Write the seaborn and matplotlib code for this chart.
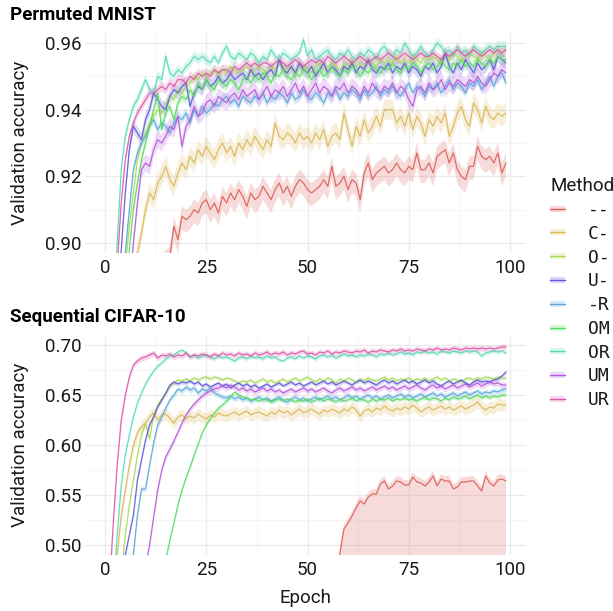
import numpy as np
import pandas as pd
import matplotlib
matplotlib.use("Agg")
import matplotlib.pyplot as plt
import seaborn as sns
from matplotlib.lines import Line2D

# methods in legend order
methods = ["--", "C-", "O-", "U-", "-R", "OM", "OR", "UM", "UR"]
epochs = list(range(100))

# ---- Permuted MNIST validation accuracy (per epoch) ----
mnist_none = [0.200, 0.400, 0.550, 0.650, 0.720, 0.770, 0.800, 0.830, 0.850, 0.865,
              0.875, 0.882, 0.887, 0.890, 0.893, 0.895, 0.896, 0.905, 0.901, 0.908,
              0.907, 0.908, 0.910, 0.909, 0.912, 0.913, 0.910, 0.912, 0.909, 0.914,
              0.912, 0.915, 0.913, 0.916, 0.914, 0.911, 0.915, 0.913, 0.914, 0.917,
              0.915, 0.913, 0.916, 0.918, 0.915, 0.917, 0.914, 0.917, 0.919, 0.918,
              0.916, 0.915, 0.916, 0.917, 0.919, 0.917, 0.923, 0.917, 0.918, 0.920,
              0.916, 0.919, 0.918, 0.913, 0.921, 0.924, 0.919, 0.921, 0.922, 0.923,
              0.921, 0.922, 0.924, 0.922, 0.921, 0.923, 0.922, 0.927, 0.922, 0.922,
              0.924, 0.921, 0.926, 0.927, 0.928, 0.924, 0.927, 0.922, 0.920, 0.919,
              0.923, 0.923, 0.929, 0.926, 0.925, 0.926, 0.924, 0.927, 0.921, 0.924]
mnist_c = [0.300, 0.500, 0.650, 0.750, 0.810, 0.850, 0.872, 0.888, 0.897, 0.903,
           0.910, 0.915, 0.913, 0.918, 0.920, 0.923, 0.919, 0.917, 0.921, 0.924,
           0.922, 0.926, 0.924, 0.928, 0.926, 0.929, 0.927, 0.925, 0.928, 0.930,
           0.927, 0.929, 0.926, 0.930, 0.928, 0.931, 0.929, 0.932, 0.930, 0.928,
           0.931, 0.929, 0.936, 0.932, 0.931, 0.933, 0.932, 0.930, 0.933, 0.931,
           0.932, 0.930, 0.933, 0.931, 0.934, 0.929, 0.932, 0.933, 0.931, 0.939,
           0.934, 0.929, 0.935, 0.932, 0.937, 0.933, 0.935, 0.938, 0.935, 0.940,
           0.940, 0.940, 0.936, 0.938, 0.935, 0.939, 0.934, 0.938, 0.936, 0.932,
           0.937, 0.935, 0.938, 0.936, 0.939, 0.932, 0.935, 0.939, 0.941, 0.937,
           0.935, 0.942, 0.940, 0.936, 0.941, 0.938, 0.937, 0.939, 0.938, 0.939]
mnist_o = [0.400, 0.600, 0.750, 0.830, 0.870, 0.893, 0.905, 0.915, 0.925, 0.930,
           0.933, 0.936, 0.938, 0.940, 0.939, 0.942, 0.944, 0.943, 0.946, 0.945,
           0.947, 0.948, 0.950, 0.949, 0.951, 0.950, 0.951, 0.952, 0.950, 0.952,
           0.951, 0.953, 0.952, 0.951, 0.952, 0.953, 0.951, 0.952, 0.953, 0.952,
           0.951, 0.953, 0.952, 0.954, 0.952, 0.953, 0.952, 0.951, 0.953, 0.952,
           0.953, 0.951, 0.953, 0.954, 0.952, 0.953, 0.954, 0.953, 0.952, 0.954,
           0.953, 0.955, 0.953, 0.954, 0.953, 0.955, 0.954, 0.953, 0.955, 0.954,
           0.955, 0.954, 0.956, 0.954, 0.955, 0.954, 0.956, 0.955, 0.954, 0.956,
           0.955, 0.956, 0.955, 0.954, 0.956, 0.955, 0.957, 0.956, 0.955, 0.956,
           0.957, 0.956, 0.955, 0.957, 0.956, 0.955, 0.957, 0.958, 0.957, 0.958]
mnist_u = [0.500, 0.700, 0.820, 0.875, 0.898, 0.915, 0.928, 0.935, 0.933, 0.931,
           0.937, 0.940, 0.945, 0.943, 0.941, 0.940, 0.944, 0.946, 0.945, 0.947,
           0.948, 0.941, 0.945, 0.947, 0.946, 0.949, 0.947, 0.948, 0.950, 0.948,
           0.949, 0.951, 0.949, 0.950, 0.951, 0.949, 0.952, 0.950, 0.951, 0.949,
           0.951, 0.952, 0.950, 0.955, 0.952, 0.951, 0.953, 0.951, 0.954, 0.952,
           0.951, 0.953, 0.950, 0.952, 0.954, 0.951, 0.953, 0.952, 0.950, 0.953,
           0.952, 0.954, 0.951, 0.953, 0.952, 0.955, 0.952, 0.951, 0.953, 0.952,
           0.954, 0.951, 0.953, 0.952, 0.954, 0.951, 0.953, 0.952, 0.950, 0.953,
           0.952, 0.954, 0.951, 0.953, 0.957, 0.953, 0.951, 0.954, 0.952, 0.955,
           0.953, 0.951, 0.954, 0.952, 0.953, 0.955, 0.952, 0.956, 0.955, 0.954]
mnist_r = [0.450, 0.650, 0.780, 0.850, 0.880, 0.897, 0.910, 0.922, 0.927, 0.930,
           0.932, 0.935, 0.937, 0.934, 0.936, 0.935, 0.933, 0.936, 0.938, 0.937,
           0.939, 0.936, 0.940, 0.938, 0.941, 0.939, 0.940, 0.942, 0.941, 0.943,
           0.944, 0.942, 0.943, 0.941, 0.944, 0.943, 0.942, 0.944, 0.943, 0.945,
           0.942, 0.944, 0.943, 0.945, 0.944, 0.942, 0.945, 0.943, 0.944, 0.946,
           0.944, 0.943, 0.945, 0.944, 0.942, 0.945, 0.944, 0.946, 0.943, 0.945,
           0.944, 0.946, 0.945, 0.943, 0.946, 0.944, 0.945, 0.947, 0.944, 0.946,
           0.945, 0.947, 0.945, 0.944, 0.946, 0.948, 0.945, 0.947, 0.946, 0.944,
           0.947, 0.946, 0.948, 0.945, 0.947, 0.949, 0.946, 0.948, 0.947, 0.945,
           0.948, 0.947, 0.949, 0.946, 0.948, 0.950, 0.947, 0.950, 0.951, 0.948]
mnist_om = [0.350, 0.550, 0.700, 0.800, 0.850, 0.880, 0.898, 0.910, 0.918, 0.925,
            0.930, 0.935, 0.940, 0.945, 0.934, 0.939, 0.941, 0.937, 0.942, 0.944,
            0.943, 0.946, 0.944, 0.948, 0.946, 0.949, 0.947, 0.946, 0.949, 0.948,
            0.947, 0.949, 0.948, 0.946, 0.949, 0.950, 0.948, 0.950, 0.949, 0.951,
            0.950, 0.948, 0.951, 0.950, 0.952, 0.950, 0.949, 0.951, 0.950, 0.952,
            0.951, 0.949, 0.951, 0.952, 0.950, 0.951, 0.953, 0.951, 0.950, 0.952,
            0.951, 0.953, 0.952, 0.950, 0.952, 0.951, 0.953, 0.952, 0.951, 0.953,
            0.952, 0.954, 0.952, 0.951, 0.953, 0.952, 0.954, 0.953, 0.951, 0.953,
            0.954, 0.952, 0.953, 0.955, 0.953, 0.952, 0.954, 0.953, 0.955, 0.953,
            0.954, 0.953, 0.955, 0.954, 0.953, 0.955, 0.954, 0.956, 0.955, 0.955]
mnist_or = [0.600, 0.800, 0.870, 0.900, 0.922, 0.932, 0.937, 0.941, 0.943, 0.946,
            0.949, 0.946, 0.945, 0.950, 0.949, 0.956, 0.951, 0.950, 0.952, 0.951,
            0.953, 0.954, 0.956, 0.955, 0.956, 0.955, 0.954, 0.956, 0.954, 0.957,
            0.959, 0.956, 0.955, 0.957, 0.956, 0.955, 0.957, 0.956, 0.954, 0.956,
            0.955, 0.958, 0.956, 0.955, 0.957, 0.956, 0.955, 0.956, 0.957, 0.961,
            0.956, 0.958, 0.955, 0.956, 0.957, 0.958, 0.956, 0.955, 0.957, 0.956,
            0.958, 0.956, 0.955, 0.957, 0.956, 0.958, 0.957, 0.955, 0.958, 0.959,
            0.957, 0.956, 0.958, 0.957, 0.960, 0.958, 0.956, 0.957, 0.959, 0.957,
            0.956, 0.958, 0.960, 0.959, 0.957, 0.958, 0.956, 0.959, 0.957, 0.958,
            0.956, 0.959, 0.958, 0.957, 0.958, 0.959, 0.958, 0.959, 0.959, 0.959]
mnist_um = [0.300, 0.500, 0.650, 0.750, 0.820, 0.860, 0.885, 0.900, 0.912, 0.922,
            0.924, 0.923, 0.928, 0.931, 0.930, 0.932, 0.935, 0.934, 0.938, 0.929,
            0.935, 0.937, 0.941, 0.938, 0.939, 0.942, 0.943, 0.941, 0.944, 0.943,
            0.942, 0.944, 0.945, 0.943, 0.946, 0.944, 0.945, 0.946, 0.943, 0.945,
            0.947, 0.944, 0.946, 0.945, 0.947, 0.944, 0.946, 0.948, 0.945, 0.947,
            0.944, 0.946, 0.948, 0.945, 0.947, 0.946, 0.944, 0.947, 0.946, 0.948,
            0.945, 0.947, 0.946, 0.944, 0.947, 0.945, 0.948, 0.946, 0.945, 0.947,
            0.946, 0.948, 0.945, 0.947, 0.946, 0.943, 0.941, 0.946, 0.947, 0.945,
            0.948, 0.946, 0.947, 0.949, 0.946, 0.948, 0.947, 0.949, 0.948, 0.947,
            0.949, 0.948, 0.950, 0.948, 0.947, 0.949, 0.951, 0.950, 0.952, 0.951]
mnist_ur = [0.550, 0.750, 0.850, 0.893, 0.912, 0.925, 0.932, 0.936, 0.939, 0.941,
            0.943, 0.945, 0.945, 0.946, 0.947, 0.946, 0.948, 0.947, 0.949, 0.949,
            0.948, 0.950, 0.949, 0.951, 0.950, 0.951, 0.950, 0.952, 0.951, 0.952,
            0.952, 0.951, 0.953, 0.952, 0.953, 0.954, 0.953, 0.954, 0.953, 0.954,
            0.954, 0.953, 0.954, 0.955, 0.954, 0.953, 0.954, 0.955, 0.954, 0.953,
            0.954, 0.955, 0.954, 0.955, 0.954, 0.956, 0.955, 0.954, 0.955, 0.956,
            0.955, 0.954, 0.955, 0.956, 0.955, 0.954, 0.955, 0.956, 0.955, 0.956,
            0.957, 0.956, 0.955, 0.956, 0.957, 0.956, 0.955, 0.956, 0.957, 0.956,
            0.956, 0.957, 0.956, 0.955, 0.957, 0.956, 0.957, 0.958, 0.957, 0.956,
            0.957, 0.958, 0.957, 0.956, 0.957, 0.958, 0.957, 0.958, 0.957, 0.958]

# ---- Sequential CIFAR-10 validation accuracy (per epoch) ----
cifar_none = [0.100, 0.100, 0.100, 0.100, 0.100, 0.100, 0.100, 0.100, 0.100, 0.100,
              0.100, 0.100, 0.100, 0.100, 0.100, 0.100, 0.100, 0.100, 0.100, 0.100,
              0.100, 0.100, 0.100, 0.100, 0.100, 0.100, 0.100, 0.100, 0.100, 0.100,
              0.100, 0.100, 0.100, 0.100, 0.100, 0.100, 0.100, 0.100, 0.100, 0.100,
              0.100, 0.100, 0.100, 0.100, 0.100, 0.100, 0.100, 0.100, 0.100, 0.100,
              0.150, 0.200, 0.260, 0.320, 0.370, 0.410, 0.440, 0.470, 0.492, 0.516,
              0.522, 0.529, 0.537, 0.544, 0.541, 0.548, 0.551, 0.551, 0.561, 0.564,
              0.556, 0.559, 0.564, 0.563, 0.560, 0.560, 0.568, 0.563, 0.562, 0.559,
              0.563, 0.569, 0.559, 0.566, 0.564, 0.564, 0.556, 0.558, 0.563, 0.563,
              0.564, 0.564, 0.559, 0.554, 0.569, 0.562, 0.559, 0.565, 0.566, 0.564]
cifar_c = [0.300, 0.380, 0.440, 0.490, 0.530, 0.555, 0.580, 0.600, 0.612, 0.618,
           0.622, 0.628, 0.632, 0.625, 0.630, 0.631, 0.627, 0.622, 0.628, 0.630,
           0.626, 0.629, 0.627, 0.631, 0.628, 0.626, 0.630, 0.628, 0.632, 0.630,
           0.629, 0.631, 0.633, 0.630, 0.632, 0.634, 0.630, 0.632, 0.633, 0.631,
           0.629, 0.633, 0.631, 0.635, 0.632, 0.634, 0.630, 0.633, 0.636, 0.632,
           0.634, 0.636, 0.633, 0.631, 0.635, 0.633, 0.636, 0.634, 0.632, 0.636,
           0.634, 0.638, 0.635, 0.629, 0.634, 0.636, 0.633, 0.637, 0.635, 0.639,
           0.636, 0.634, 0.637, 0.635, 0.638, 0.636, 0.640, 0.637, 0.633, 0.636,
           0.638, 0.635, 0.637, 0.639, 0.636, 0.638, 0.635, 0.637, 0.639, 0.636,
           0.638, 0.640, 0.643, 0.638, 0.635, 0.638, 0.637, 0.641, 0.640, 0.640]
cifar_o = [0.250, 0.320, 0.380, 0.430, 0.470, 0.510, 0.540, 0.565, 0.590, 0.610,
           0.622, 0.606, 0.630, 0.640, 0.646, 0.652, 0.658, 0.662, 0.665, 0.664,
           0.666, 0.664, 0.667, 0.665, 0.667, 0.668, 0.666, 0.668, 0.667, 0.665,
           0.667, 0.666, 0.664, 0.662, 0.664, 0.663, 0.665, 0.662, 0.664, 0.666,
           0.663, 0.665, 0.662, 0.664, 0.666, 0.663, 0.665, 0.667, 0.664, 0.666,
           0.668, 0.665, 0.663, 0.666, 0.664, 0.667, 0.665, 0.662, 0.666, 0.664,
           0.667, 0.665, 0.663, 0.666, 0.664, 0.667, 0.665, 0.664, 0.666, 0.668,
           0.665, 0.667, 0.664, 0.666, 0.665, 0.667, 0.664, 0.666, 0.665, 0.667,
           0.664, 0.666, 0.668, 0.665, 0.667, 0.664, 0.666, 0.665, 0.663, 0.666,
           0.667, 0.665, 0.667, 0.666, 0.668, 0.667, 0.666, 0.668, 0.667, 0.667]
cifar_u = [0.250, 0.320, 0.380, 0.420, 0.460, 0.490, 0.510, 0.530, 0.565, 0.585,
           0.605, 0.620, 0.628, 0.638, 0.645, 0.652, 0.660, 0.663, 0.661, 0.663,
           0.662, 0.664, 0.661, 0.663, 0.659, 0.661, 0.658, 0.660, 0.662, 0.659,
           0.661, 0.657, 0.660, 0.662, 0.659, 0.661, 0.658, 0.660, 0.657, 0.659,
           0.661, 0.658, 0.660, 0.662, 0.659, 0.661, 0.663, 0.660, 0.662, 0.659,
           0.661, 0.663, 0.660, 0.662, 0.664, 0.661, 0.663, 0.660, 0.662, 0.664,
           0.662, 0.660, 0.663, 0.665, 0.662, 0.664, 0.662, 0.660, 0.663, 0.665,
           0.662, 0.664, 0.661, 0.663, 0.665, 0.662, 0.664, 0.661, 0.663, 0.665,
           0.662, 0.664, 0.661, 0.659, 0.662, 0.664, 0.661, 0.663, 0.665, 0.662,
           0.660, 0.663, 0.665, 0.663, 0.664, 0.663, 0.665, 0.666, 0.669, 0.673]
cifar_r = [0.220, 0.280, 0.340, 0.390, 0.430, 0.460, 0.480, 0.490, 0.530, 0.556,
           0.556, 0.580, 0.602, 0.620, 0.628, 0.637, 0.645, 0.650, 0.656, 0.654,
           0.658, 0.655, 0.657, 0.652, 0.656, 0.654, 0.657, 0.652, 0.650, 0.648,
           0.647, 0.649, 0.646, 0.648, 0.645, 0.647, 0.644, 0.646, 0.648, 0.645,
           0.647, 0.644, 0.646, 0.648, 0.645, 0.643, 0.646, 0.648, 0.645, 0.647,
           0.644, 0.646, 0.648, 0.645, 0.647, 0.649, 0.646, 0.648, 0.645, 0.647,
           0.650, 0.647, 0.649, 0.646, 0.648, 0.650, 0.647, 0.649, 0.646, 0.648,
           0.650, 0.647, 0.649, 0.651, 0.648, 0.650, 0.647, 0.649, 0.651, 0.648,
           0.650, 0.652, 0.649, 0.651, 0.648, 0.650, 0.652, 0.649, 0.651, 0.653,
           0.650, 0.652, 0.654, 0.651, 0.653, 0.652, 0.654, 0.653, 0.655, 0.656]
cifar_om = [0.150, 0.180, 0.210, 0.240, 0.270, 0.300, 0.320, 0.340, 0.360, 0.380,
            0.400, 0.415, 0.430, 0.450, 0.465, 0.485, 0.505, 0.522, 0.540, 0.555,
            0.567, 0.578, 0.590, 0.601, 0.612, 0.620, 0.627, 0.632, 0.637, 0.640,
            0.644, 0.648, 0.653, 0.650, 0.648, 0.647, 0.645, 0.646, 0.644, 0.646,
            0.645, 0.643, 0.645, 0.646, 0.644, 0.646, 0.645, 0.643, 0.645, 0.644,
            0.646, 0.643, 0.645, 0.647, 0.644, 0.646, 0.645, 0.643, 0.646, 0.644,
            0.645, 0.647, 0.644, 0.646, 0.645, 0.643, 0.646, 0.644, 0.646, 0.645,
            0.647, 0.644, 0.646, 0.645, 0.647, 0.645, 0.646, 0.644, 0.646, 0.648,
            0.645, 0.647, 0.646, 0.644, 0.647, 0.645, 0.648, 0.646, 0.647, 0.649,
            0.646, 0.648, 0.650, 0.647, 0.649, 0.647, 0.649, 0.648, 0.650, 0.650]
cifar_or = [0.300, 0.380, 0.450, 0.510, 0.560, 0.590, 0.610, 0.628, 0.642, 0.652,
            0.661, 0.668, 0.674, 0.679, 0.682, 0.686, 0.689, 0.690, 0.693, 0.695,
            0.692, 0.688, 0.690, 0.687, 0.689, 0.690, 0.688, 0.686, 0.689, 0.687,
            0.688, 0.686, 0.684, 0.687, 0.688, 0.686, 0.689, 0.687, 0.688, 0.686,
            0.689, 0.687, 0.688, 0.685, 0.684, 0.687, 0.688, 0.686, 0.689, 0.687,
            0.689, 0.688, 0.686, 0.689, 0.690, 0.688, 0.690, 0.687, 0.689, 0.691,
            0.689, 0.690, 0.688, 0.690, 0.689, 0.691, 0.690, 0.688, 0.691, 0.690,
            0.692, 0.690, 0.691, 0.693, 0.691, 0.692, 0.690, 0.693, 0.692, 0.694,
            0.692, 0.693, 0.691, 0.694, 0.693, 0.692, 0.694, 0.693, 0.692, 0.694,
            0.693, 0.694, 0.693, 0.689, 0.692, 0.693, 0.694, 0.693, 0.694, 0.692]
cifar_um = [0.200, 0.240, 0.280, 0.320, 0.350, 0.380, 0.410, 0.430, 0.450, 0.465,
            0.480, 0.500, 0.528, 0.555, 0.575, 0.588, 0.596, 0.604, 0.613, 0.622,
            0.630, 0.636, 0.641, 0.645, 0.649, 0.652, 0.654, 0.656, 0.657, 0.659,
            0.657, 0.660, 0.658, 0.655, 0.657, 0.654, 0.656, 0.653, 0.655, 0.657,
            0.654, 0.656, 0.653, 0.655, 0.652, 0.654, 0.656, 0.653, 0.655, 0.657,
            0.654, 0.656, 0.653, 0.655, 0.657, 0.654, 0.652, 0.655, 0.657, 0.654,
            0.656, 0.658, 0.655, 0.657, 0.654, 0.656, 0.658, 0.655, 0.657, 0.659,
            0.656, 0.658, 0.655, 0.657, 0.659, 0.656, 0.658, 0.660, 0.657, 0.655,
            0.658, 0.660, 0.657, 0.659, 0.656, 0.658, 0.660, 0.657, 0.659, 0.661,
            0.658, 0.660, 0.662, 0.659, 0.661, 0.663, 0.661, 0.662, 0.660, 0.660]
cifar_ur = [0.350, 0.450, 0.520, 0.580, 0.625, 0.650, 0.668, 0.680, 0.684, 0.687,
            0.688, 0.690, 0.692, 0.687, 0.690, 0.689, 0.691, 0.688, 0.690, 0.689,
            0.692, 0.688, 0.690, 0.689, 0.691, 0.690, 0.688, 0.691, 0.689, 0.692,
            0.690, 0.691, 0.689, 0.692, 0.690, 0.691, 0.689, 0.692, 0.690, 0.691,
            0.693, 0.690, 0.692, 0.691, 0.693, 0.690, 0.692, 0.691, 0.693, 0.694,
            0.691, 0.692, 0.690, 0.693, 0.692, 0.694, 0.691, 0.693, 0.692, 0.694,
            0.693, 0.692, 0.694, 0.693, 0.695, 0.692, 0.694, 0.693, 0.695, 0.694,
            0.693, 0.695, 0.694, 0.696, 0.694, 0.695, 0.694, 0.696, 0.695, 0.694,
            0.696, 0.695, 0.697, 0.695, 0.696, 0.695, 0.697, 0.696, 0.695, 0.697,
            0.696, 0.697, 0.696, 0.697, 0.696, 0.697, 0.696, 0.697, 0.698, 0.698]

# ribbon half-widths (below / above the line), legend order
mnist_lo = [0.004, 0.003, 0.0015, 0.002, 0.0015, 0.0015, 0.0015, 0.0025, 0.0015]
mnist_hi = [0.003, 0.003, 0.0015, 0.002, 0.0015, 0.0015, 0.0015, 0.0025, 0.0015]
cifar_lo = [0.200, 0.006, 0.002, 0.002, 0.003, 0.002, 0.002, 0.003, 0.003]
cifar_hi = [0.005, 0.006, 0.002, 0.002, 0.003, 0.002, 0.002, 0.003, 0.003]

mnist = dict(zip(methods, [mnist_none, mnist_c, mnist_o, mnist_u, mnist_r,
                           mnist_om, mnist_or, mnist_um, mnist_ur]))
cifar = dict(zip(methods, [cifar_none, cifar_c, cifar_o, cifar_u, cifar_r,
                           cifar_om, cifar_or, cifar_um, cifar_ur]))

sns.set_theme(style="white")
plt.rcParams["font.family"] = ["Roboto", "DejaVu Sans"]

# hls hues, assigned like the original
hls = sns.color_palette("hls", 9)
hue_idx = [0, 1, 2, 6, 5, 3, 4, 7, 8]
palette = {m: hls[i] for m, i in zip(methods, hue_idx)}

TXT = "#1a1a1a"
FS = 13.5

fig = plt.figure(figsize=(6.13, 6.11), dpi=100)
W, H = 613, 611
ax1 = fig.add_axes([85 / W, 1 - 253 / H, 441 / W, 220 / H])
ax2 = fig.add_axes([85 / W, 1 - 555 / H, 441 / W, 220 / H])


def draw_panel(ax, curves, lo, hi, ylim, yticks, yminor):
    df = pd.concat([pd.DataFrame({"Epoch": epochs, "acc": curves[m], "Method": m})
                    for m in methods])
    for m, l, h in zip(methods, lo, hi):
        y = np.array(curves[m])
        ax.fill_between(epochs, y - l, y + h, color=palette[m], alpha=0.22, lw=0)
    sns.lineplot(data=df, x="Epoch", y="acc", hue="Method", hue_order=methods,
                 palette=palette, estimator=None, lw=0.9, alpha=0.9,
                 legend=False, ax=ax)
    ax.set_xlim(-4.95, 103.95)
    ax.set_ylim(*ylim)
    ax.set_xticks([0, 25, 50, 75, 100])
    ax.set_xticks([12.5, 37.5, 62.5, 87.5], minor=True)
    ax.set_yticks(yticks)
    ax.set_yticklabels([f"{v:.2f}" for v in yticks])
    ax.set_yticks(yminor, minor=True)
    ax.grid(which="major", color="#EBEBEB", lw=0.9)
    ax.grid(which="minor", color="#F4F4F4", lw=0.6)
    ax.set_axisbelow(True)
    for s in ax.spines.values():
        s.set_visible(False)
    ax.tick_params(which="both", length=0, labelsize=FS, labelcolor=TXT)
    ax.tick_params(axis="y", pad=2.5)
    ax.tick_params(axis="x", pad=4)
    ax.set_ylabel("Validation accuracy", fontsize=FS, color=TXT)
    ax.yaxis.set_label_coords(-0.127, 0.5)
    ax.set_xlabel("")


draw_panel(ax1, mnist, mnist_lo, mnist_hi, (0.897, 0.963),
           [0.90, 0.92, 0.94, 0.96], [0.91, 0.93, 0.95])
draw_panel(ax2, cifar, cifar_lo, cifar_hi, (0.49, 0.71),
           [0.50, 0.55, 0.60, 0.65, 0.70], [0.525, 0.575, 0.625, 0.675])
ax2.set_xlabel("Epoch", fontsize=FS, color=TXT)
ax2.xaxis.set_label_coords(0.5, -0.155)

fig.text(10 / W, 1 - 20 / H, "Permuted MNIST", fontsize=FS, fontweight="bold",
         color="black", va="baseline")
fig.text(10 / W, 1 - 322 / H, "Sequential CIFAR-10", fontsize=FS,
         fontweight="bold", color="black", va="baseline")

# legend key: thin translucent band (ribbon) with the line on top
handles = [(Line2D([], [], color=palette[m], alpha=0.22, lw=4.5,
                   solid_capstyle="butt"),
            Line2D([], [], color=palette[m], lw=1.0)) for m in methods]
leg = fig.legend(handles, methods, loc="upper left",
                 bbox_to_anchor=(543 / W, 1 - 170 / H), frameon=False,
                 title="Method", title_fontsize=FS,
                 prop={"family": "DejaVu Sans Mono", "size": 13},
                 handlelength=0.8, handletextpad=1.3,
                 labelspacing=0.32, alignment="left", borderaxespad=0)
leg.get_title().set_color(TXT)
leg.get_title().set_family(["Roboto", "DejaVu Sans"])
for t in leg.get_texts():
    t.set_color(TXT)

fig.savefig("out.png", dpi=100)
